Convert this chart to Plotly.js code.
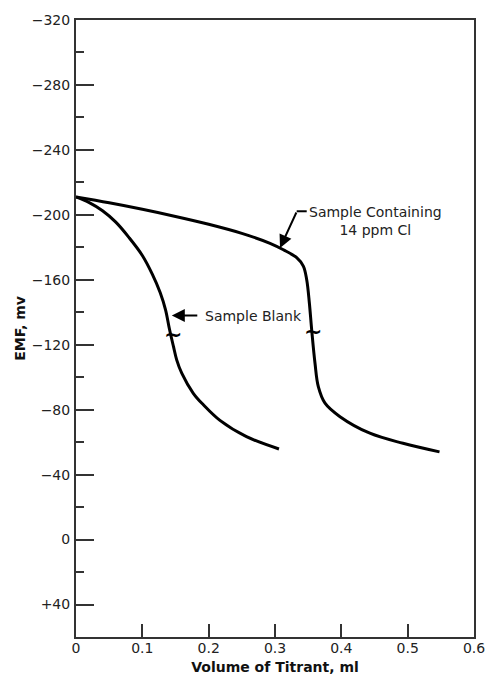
<!DOCTYPE html>
<html>
<head>
<meta charset="utf-8">
<script src="https://cdn.plot.ly/plotly-3.0.1.min.js"></script>
<style>html,body{margin:0;padding:0;background:#fff;}#chart{width:486px;height:675px;}</style>
</head>
<body>
<div id="chart"></div>
<script>
// Data
const blankX = [0, 0.02, 0.04, 0.06, 0.08, 0.1, 0.115, 0.127, 0.135, 0.1407, 0.1467, 0.1518, 0.1594, 0.1768, 0.192, 0.217, 0.257, 0.306];
const blankY = [-211, -207.5, -202.5, -195.5, -186, -175, -163.5, -152, -141.5, -130, -119.3, -110.7, -102.5, -90.1, -83, -73.4, -63.4, -55.8];

const sampleX = [0, 0.05, 0.1, 0.15, 0.2, 0.25, 0.2925, 0.3126, 0.3327, 0.3427, 0.3478, 0.3518, 0.3553, 0.3603, 0.3653, 0.3754, 0.398, 0.443, 0.493, 0.548];
const sampleY = [-211, -207.4, -203.4, -199, -194.2, -188.6, -182.5, -178.5, -173.6, -168.4, -160, -145.7, -129.2, -108.6, -94.2, -84, -75.7, -65.5, -59.3, -54];

const xTickVals = [0, 0.1, 0.2, 0.3, 0.4, 0.5, 0.6];
const xTickText = ["0", "0.1", "0.2", "0.3", "0.4", "0.5", "0.6"];
const yTickVals = [-320, -280, -240, -200, -160, -120, -80, -40, 0, 40];
const yTickText = ["\u2212320", "\u2212280", "\u2212240", "\u2212200", "\u2212160", "\u2212120", "\u221280", "\u221240", "0", "+40"];

const labelBlank = "Sample Blank";
const labelSample = "Sample Containing<br>14 ppm Cl";

const FONT = "DejaVu Sans, Verdana, sans-serif";
const AX = "#333";

const traces = [
  {x: blankX, y: blankY, mode: "lines", line: {color: "#000", width: 3, shape: "spline", smoothing: 1}, hoverinfo: "skip"},
  {x: sampleX, y: sampleY, mode: "lines", line: {color: "#000", width: 3, shape: "spline", smoothing: 1}, hoverinfo: "skip"}
];

const layout = {
  width: 486, height: 675,
  margin: {l: 76, r: 12, t: 20, b: 38},
  paper_bgcolor: "#fff", plot_bgcolor: "#fff",
  showlegend: false,
  font: {family: FONT, size: 14, color: "#222"},
  xaxis: {
    range: [0, 0.6], tickvals: xTickVals, ticktext: xTickText,
    ticks: "inside", ticklen: 13, tickwidth: 2, tickcolor: AX,
    showline: true, linewidth: 2, linecolor: AX, mirror: true,
    showgrid: false, zeroline: false, ticklabelstandoff: -3,
    title: {text: "<b>Volume of Titrant, ml</b>", font: {family: FONT, size: 14, color: "#111"}, standoff: 8}
  },
  yaxis: {
    range: [60, -320], tickvals: yTickVals, ticktext: yTickText,
    ticks: "inside", ticklen: 18, tickwidth: 2, tickcolor: AX,
    minor: {dtick: 20, tick0: 0, ticks: "inside", ticklen: 8, tickwidth: 2, tickcolor: AX, showgrid: false},
    showline: true, linewidth: 2, linecolor: AX, mirror: true,
    showgrid: false, zeroline: false, ticklabelstandoff: 1,
    title: {text: "<b>EMF, mv</b>", font: {family: FONT, size: 14, color: "#111"}, standoff: 3}
  },
  shapes: [
    {type: "line", xref: "x", yref: "y", x0: 0.3327, x1: 0.3478, y0: -202.2, y1: -202.2, line: {color: "#000", width: 2}}
  ],
  annotations: [
    {x: 0.1444, y: -138, xref: "x", yref: "y", text: "", showarrow: true, ax: 27, ay: 0,
     arrowhead: 2, arrowsize: 1.3, arrowwidth: 2, arrowcolor: "#000", standoff: 0},
    {x: 0.1915, y: -138, xref: "x", yref: "y", text: labelBlank, showarrow: false, xanchor: "left", yanchor: "middle",
     font: {family: FONT, size: 14, color: "#222"}},
    {x: 0.3076, y: -179.6, xref: "x", yref: "y", text: "", showarrow: true, ax: 17, ay: -37,
     arrowhead: 2, arrowsize: 1.3, arrowwidth: 2, arrowcolor: "#000", standoff: 0},
    {x: 0.451, y: -196, xref: "x", yref: "y", text: labelSample, showarrow: false, xanchor: "center", yanchor: "middle", align: "center",
     font: {family: FONT, size: 14, color: "#222"}},
    {x: 0.146, y: -126, xref: "x", yref: "y", text: "<b>~</b>", showarrow: false, xanchor: "center", yanchor: "middle",
     font: {family: FONT, size: 22, color: "#000"}},
    {x: 0.357, y: -128.2, xref: "x", yref: "y", text: "<b>~</b>", showarrow: false, xanchor: "center", yanchor: "middle",
     font: {family: FONT, size: 22, color: "#000"}}
  ]
};

Plotly.newPlot("chart", traces, layout, {displayModeBar: false, staticPlot: true});
</script>
</body>
</html>
